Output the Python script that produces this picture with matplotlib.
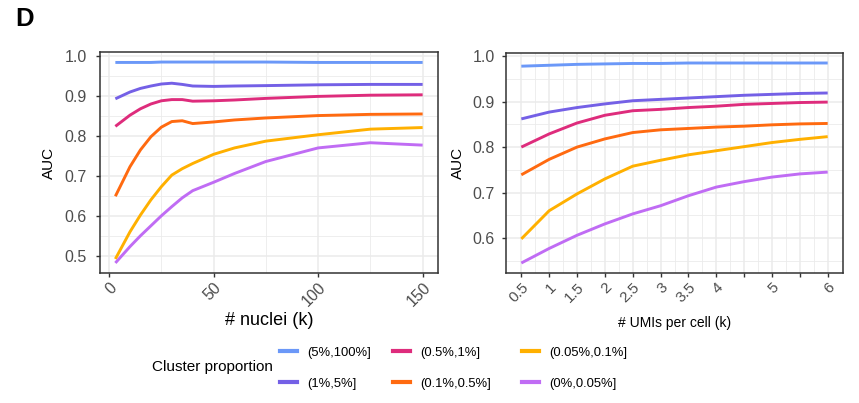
import matplotlib
matplotlib.use("Agg")
import matplotlib.pyplot as plt
from matplotlib.lines import Line2D

plt.rcParams['font.family'] = ['Liberation Sans', 'DejaVu Sans']

groups = ["(5%,100%]", "(1%,5%]", "(0.5%,1%]", "(0.1%,0.5%]", "(0.05%,0.1%]", "(0%,0.05%]"]
colors = ["#6B98F8", "#7460E6", "#DE2C7C", "#FF6A10", "#FFB000", "#C06CF4"]

nuclei = [3, 10, 15, 20, 25, 30, 35, 40, 50, 60, 75, 100, 125, 150]
auc_nuclei_5_100 = [0.984, 0.984, 0.984, 0.984, 0.985, 0.985, 0.985, 0.985, 0.985, 0.985, 0.985, 0.984, 0.984, 0.984]
auc_nuclei_1_5 = [0.893, 0.910, 0.919, 0.925, 0.930, 0.932, 0.929, 0.925, 0.924, 0.925, 0.926, 0.928, 0.929, 0.929]
auc_nuclei_05_1 = [0.824, 0.852, 0.868, 0.880, 0.888, 0.891, 0.891, 0.887, 0.888, 0.890, 0.894, 0.899, 0.902, 0.903]
auc_nuclei_01_05 = [0.649, 0.723, 0.765, 0.798, 0.822, 0.836, 0.838, 0.831, 0.835, 0.840, 0.845, 0.851, 0.854, 0.855]
auc_nuclei_005_01 = [0.492, 0.560, 0.602, 0.640, 0.673, 0.702, 0.718, 0.731, 0.754, 0.770, 0.787, 0.803, 0.817, 0.821]
auc_nuclei_0_005 = [0.482, 0.523, 0.550, 0.575, 0.600, 0.623, 0.645, 0.663, 0.684, 0.706, 0.736, 0.770, 0.783, 0.777]

umis = [0.5, 1, 1.5, 2, 2.5, 3, 3.5, 4, 4.5, 5, 5.5, 6]
auc_umis_5_100 = [0.978, 0.980, 0.982, 0.983, 0.984, 0.984, 0.985, 0.985, 0.985, 0.985, 0.985, 0.985]
auc_umis_1_5 = [0.862, 0.877, 0.887, 0.895, 0.902, 0.905, 0.908, 0.911, 0.914, 0.916, 0.918, 0.919]
auc_umis_05_1 = [0.800, 0.829, 0.853, 0.870, 0.880, 0.883, 0.887, 0.890, 0.894, 0.896, 0.898, 0.899]
auc_umis_01_05 = [0.739, 0.773, 0.800, 0.818, 0.832, 0.838, 0.841, 0.844, 0.846, 0.849, 0.851, 0.852]
auc_umis_005_01 = [0.598, 0.660, 0.697, 0.730, 0.758, 0.771, 0.783, 0.792, 0.801, 0.810, 0.817, 0.823]
auc_umis_0_005 = [0.545, 0.577, 0.606, 0.631, 0.653, 0.671, 0.693, 0.712, 0.724, 0.734, 0.741, 0.745]

left_series = [auc_nuclei_5_100, auc_nuclei_1_5, auc_nuclei_05_1, auc_nuclei_01_05, auc_nuclei_005_01, auc_nuclei_0_005]
right_series = [auc_umis_5_100, auc_umis_1_5, auc_umis_05_1, auc_umis_01_05, auc_umis_005_01, auc_umis_0_005]

left_xticks = [0, 50, 100, 150]
left_xtick_labels = ["0", "50", "100", "150"]
left_yticks = [0.5, 0.6, 0.7, 0.8, 0.9, 1.0]
right_xticks = [0.5, 1, 1.5, 2, 2.5, 3, 3.5, 4, 4.5, 5, 5.5, 6]
right_xtick_labels = ["0.5", "1", "1.5", "2", "2.5", "3", "3.5", "4", "", "5", "", "6"]
right_yticks = [0.6, 0.7, 0.8, 0.9, 1.0]

W, H = 859, 403
fig = plt.figure(figsize=(W / 100, H / 100), dpi=100)

def frac_box(l, t, r, b):
    return [l / W, 1 - b / H, (r - l) / W, (b - t) / H]

axL = fig.add_axes(frac_box(100, 52, 438, 273))
axR = fig.add_axes(frac_box(506, 53, 843, 273))

grid_c = "#EBEBEB"
tick_c = "#4D4D4D"
frame_c = "#333333"

def style(ax, xticks, xlabels, yticks, xminor, yminor, xfs, ypad):
    ax.set_xticks(xticks)
    ax.set_xticklabels(xlabels, rotation=45, ha='right', rotation_mode='anchor',
                       fontsize=xfs, color=tick_c)
    ax.set_yticks(yticks)
    ax.set_yticklabels([f"{v:.1f}" for v in yticks], fontsize=11.5, color=tick_c)
    ax.set_xticks(xminor, minor=True)
    ax.set_yticks(yminor, minor=True)
    ax.grid(True, which='major', color=grid_c, lw=1.1, zorder=0)
    ax.grid(True, which='minor', color=grid_c, lw=0.6, zorder=0)
    ax.set_axisbelow(True)
    ax.tick_params(which='major', length=3, width=1, color=frame_c)
    ax.tick_params(axis='x', which='major', pad=2)
    ax.tick_params(axis='y', which='major', pad=ypad)
    ax.tick_params(which='minor', length=0)
    for s in ax.spines.values():
        s.set_color(frame_c)
        s.set_linewidth(1.1)

for ys, c in zip(left_series, colors):
    axL.plot(nuclei, ys, color=c, lw=2.1, solid_capstyle='butt', zorder=3)
for ys, c in zip(right_series, colors):
    axR.plot(umis, ys, color=c, lw=2.1, solid_capstyle='butt', zorder=3)

xr = max(nuclei) - min(nuclei)
axL.set_xlim(min(nuclei) - 0.05 * xr, max(nuclei) + 0.05 * xr)
allL = [v for s in left_series for v in s]
yr = max(allL) - min(allL)
axL.set_ylim(min(allL) - 0.05 * yr, max(allL) + 0.05 * yr)

xr = max(umis) - min(umis)
axR.set_xlim(min(umis) - 0.05 * xr, max(umis) + 0.05 * xr)
allR = [v for s in right_series for v in s]
yr = max(allR) - min(allR)
axR.set_ylim(min(allR) - 0.05 * yr, max(allR) + 0.05 * yr)

style(axL, left_xticks, left_xtick_labels, left_yticks,
      [25, 75, 125], [0.55, 0.65, 0.75, 0.85, 0.95], 11.5, 6.5)
style(axR, right_xticks, right_xtick_labels, right_yticks,
      [0.75, 1.25, 1.75, 2.25, 2.75, 3.25, 3.75, 4.25, 4.75, 5.25, 5.75],
      [0.55, 0.65, 0.75, 0.85, 0.95], 11, 5)

axL.set_xlabel("# nuclei (k)", fontsize=13)
axL.xaxis.set_label_coords(0.5, -0.175)
axL.set_ylabel("AUC", fontsize=11)
axL.yaxis.set_label_coords(-0.130, 0.5)

axR.set_xlabel("# UMIs per cell (k)", fontsize=10)
axR.xaxis.set_label_coords(0.5, -0.195)
axR.set_ylabel("AUC", fontsize=11)
axR.yaxis.set_label_coords(-0.122, 0.5)

fig.text(15 / W, 1 - 26 / H, "D", fontsize=18.5, fontweight='bold', va='baseline', ha='left')

fig.text(152 / W, 1 - 367 / H, "Cluster proportion", fontsize=11, va='center', ha='left')

col_x = [280, 393, 522]
for i, x in enumerate(col_x):
    handles = [Line2D([], [], color=colors[2 * i + k], lw=3) for k in range(2)]
    fig.legend(handles, groups[2 * i:2 * i + 2], loc='center left',
               bbox_to_anchor=(x / W, 1 - 368 / H), frameon=False,
               borderpad=0, borderaxespad=0, handlelength=1.3, handletextpad=0.75,
               labelspacing=1.45, prop={'size': 9.4})

fig.savefig("out.png", dpi=100, facecolor='white')
